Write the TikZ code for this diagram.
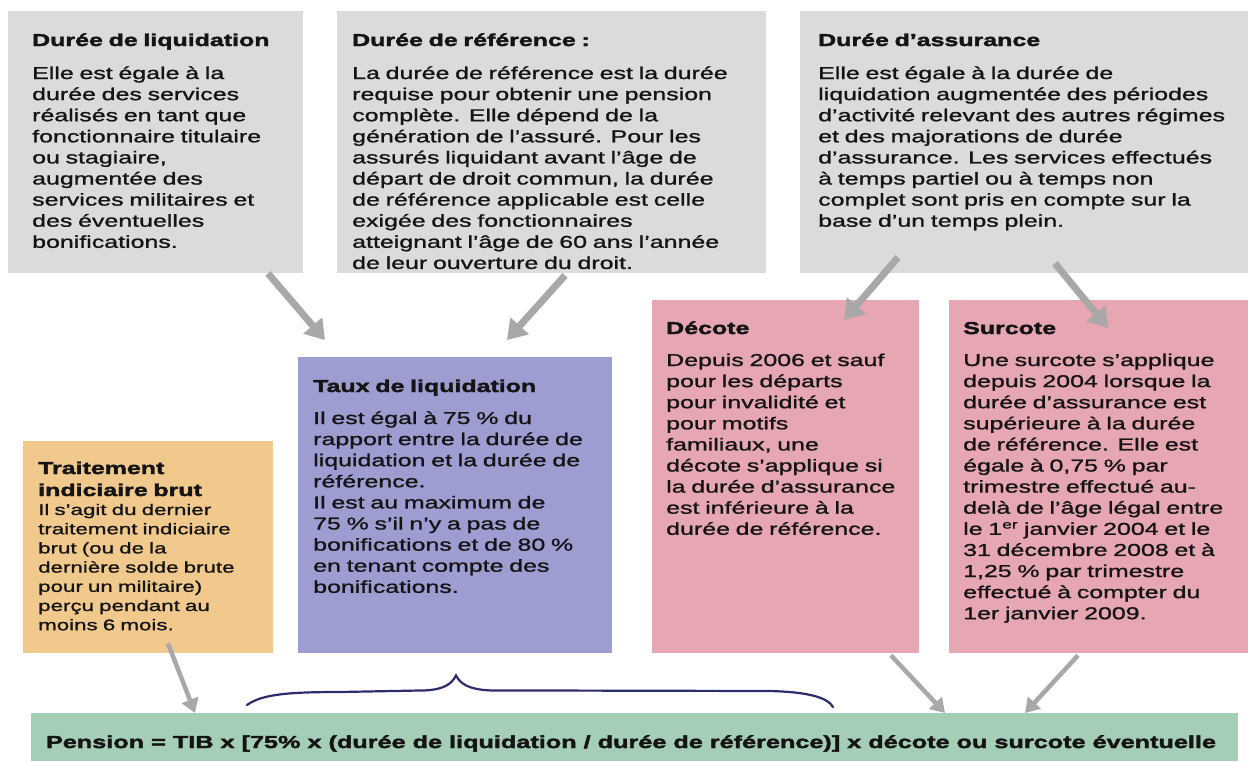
\documentclass[tikz,border=0pt]{standalone}
\usepackage{fontspec}
\setmainfont{Liberation Sans}[FakeStretch=1.45,FakeBold=1.2,BoldFeatures={FakeBold=2.2}]
\usetikzlibrary{arrows.meta,calc}
\definecolor{boxgray}{HTML}{DBDBDB}
\definecolor{boxpink}{HTML}{E6A6B2}
\definecolor{boxpurple}{HTML}{9D9DD2}
\definecolor{boxorange}{HTML}{F2C98C}
\definecolor{boxgreen}{HTML}{A4CEB5}
\definecolor{arrgray}{HTML}{A8A8A8}
\definecolor{bracecol}{HTML}{2D2D6E}
\definecolor{textdark}{HTML}{141414}
\begin{document}
\begin{tikzpicture}[x=1pt,y=-1pt,
  box/.style={draw=none,inner sep=0pt,anchor=north west},
  ttl/.style={anchor=base west,inner sep=0pt,align=left,text width=300pt,text=textdark,
    font=\fontsize{17.2}{21.1}\selectfont\bfseries},
  bodytxt/.style={anchor=base west,inner sep=0pt,align=left,text width=440pt,text=textdark,
    font=\fontsize{17.2}{21.1}\selectfont},
  smalltxt/.style={anchor=base west,inner sep=0pt,align=left,text width=300pt,text=textdark,
    font=\fontsize{15.4}{19.2}\selectfont},
  bigarr/.style={draw=arrgray,line width=7pt,-{Triangle[width=24pt,length=19pt]}},
  smallarr/.style={draw=arrgray,line width=4.5pt,-{Triangle[width=17pt,length=14pt]}}
]
\useasboundingbox[fill=white] (0,0) rectangle (1248,761);

% boxes
\node[box,fill=boxgray,minimum width=295pt,minimum height=262pt] (b1) at (8,11) {};
\node[box,fill=boxgray,minimum width=429pt,minimum height=262pt] (b2) at (337,11) {};
\node[box,fill=boxgray,minimum width=448pt,minimum height=262pt] (b3) at (800,11) {};
\node[box,fill=boxpink,minimum width=267pt,minimum height=353pt] (dec) at (652,300) {};
\node[box,fill=boxpink,minimum width=299pt,minimum height=353pt] (sur) at (949,300) {};
\node[box,fill=boxpurple,minimum width=314pt,minimum height=296pt] (taux) at (298,357) {};
\node[box,fill=boxorange,minimum width=250pt,minimum height=212pt] (tib) at (23,441) {};
\node[box,fill=boxgreen,minimum width=1207pt,minimum height=48pt] (pens) at (31,713) {};

% texts
\node[ttl] (b1t) at (32,46) {Durée de liquidation};
\node[bodytxt] (b1b) at (32,79) {Elle est égale à la\\ durée des services\\ réalisés en tant que\\ fonctionnaire titulaire\\ ou stagiaire,\\ augmentée des\\ services militaires et\\ des éventuelles\\ bonifications.};

\node[ttl] (b2t) at (352,46) {Durée de référence :};
\node[bodytxt] (b2b) at (352,79) {La durée de référence est la durée\\ requise pour obtenir une pension\\ complète. Elle dépend de la\\ génération de l'assuré. Pour les\\ assurés liquidant avant l'âge de\\ départ de droit commun, la durée\\ de référence applicable est celle\\ exigée des fonctionnaires\\ atteignant l'âge de 60 ans l'année\\ de leur ouverture du droit.};

\node[ttl] (b3t) at (818,46) {Durée d'assurance};
\node[bodytxt] (b3b) at (818,79) {Elle est égale à la durée de\\ liquidation augmentée des périodes\\ d'activité relevant des autres régimes\\ et des majorations de durée\\ d'assurance. Les services effectués\\ à temps partiel ou à temps non\\ complet sont pris en compte sur la\\ base d'un temps plein.};

\node[ttl] (dect) at (666,334) {Décote};
\node[bodytxt] (decb) at (666,366) {Depuis 2006 et sauf\\ pour les départs\\ pour invalidité et\\ pour motifs\\ familiaux, une\\ décote s'applique si\\ la durée d'assurance\\ est inférieure à la\\ durée de référence.};

\node[ttl] (surt) at (963,334) {Surcote};
\node[bodytxt] (surb) at (963,366) {Une surcote s'applique\\ depuis 2004 lorsque la\\ durée d'assurance est\\ supérieure à la durée\\ de référence. Elle est\\ égale à 0,75 \% par\\ trimestre effectué au-\\ delà de l'âge légal entre\\ le 1\textsuperscript{er} janvier 2004 et le\\ 31 décembre 2008 et à\\ 1,25 \% par trimestre\\ effectué à compter du\\ 1er janvier 2009.};

\node[ttl] (tauxt) at (313,392) {Taux de liquidation};
\node[bodytxt] (tauxb) at (313,424) {Il est égal à 75 \% du\\ rapport entre la durée de\\ liquidation et la durée de\\ référence.\\ Il est au maximum de\\ 75 \% s'il n'y a pas de\\ bonifications et de 80 \%\\ en tenant compte des\\ bonifications.};

\node[ttl,font=\fontsize{17.2}{22}\selectfont\bfseries] (tibt) at (38,474) {Traitement\\ indiciaire brut};
\node[smalltxt] (tibb) at (38,515) {Il s'agit du dernier\\ traitement indiciaire\\ brut (ou de la\\ dernière solde brute\\ pour un militaire)\\ perçu pendant au\\ moins 6 mois.};

\node[anchor=base,inner sep=0pt,text=textdark,font=\fontsize{17.4}{20}\selectfont\bfseries] (penst) at (631,748) {Pension = TIB x [75\% x (durée de liquidation / durée de référence)] x décote ou surcote éventuelle};

% arrows
\draw[bigarr] ($(b1.south west)+(260,0)$) -- ($(taux.north west)+(27,-17)$);
\draw[bigarr] ($(b2.south west)+(228,2)$) -- ($(taux.north west)+(209,-17)$);
\draw[bigarr] ($(b3.south west)+(98,-16)$) -- ($(dec.north west)+(192,20)$);
\draw[bigarr] ($(b3.south west)+(255,-10)$) -- ($(sur.north west)+(159,28)$);
\draw[smallarr] ($(tib.south west)+(145,-10)$) -- ($(pens.north west)+(164,0)$);
\draw[smallarr] ($(dec.south west)+(239,2)$) -- ($(pens.north west)+(914,0)$);
\draw[smallarr] ($(sur.south west)+(129,2)$) -- ($(pens.north west)+(994,0)$);

% brace
\coordinate (brL) at ($(pens.north west)+(216,-8)$);
\coordinate (brTip) at ($(taux.south west)+(158,22)$);
\coordinate (brR) at ($(pens.north west)+(802,-6)$);
\draw[bracecol,line width=2.2pt,line cap=round]
  (brL) .. controls +(15,-11) and +(-50,0) .. ($(brL)+(93,-13)$)
  -- ($(brTip)+(-31,15)$) .. controls +(20,-1) and +(-4,8) .. (brTip)
  .. controls +(4,8) and +(-22,-1) .. ($(brTip)+(34,15)$)
  -- ($(brR)+(-63,-16)$) .. controls +(40,1) and +(-5,-9) .. (brR);
\end{tikzpicture}
\end{document}
